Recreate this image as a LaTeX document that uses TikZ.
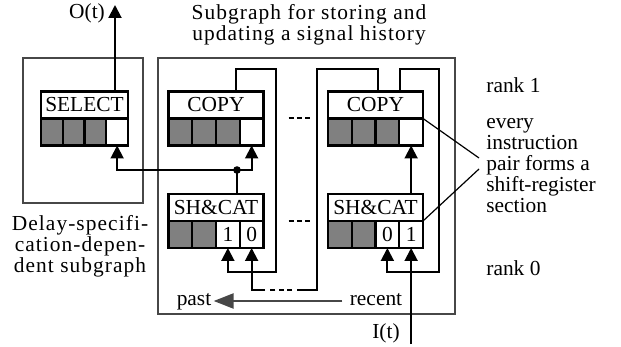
\documentclass[tikz,border=0pt]{standalone}
\usepackage{fontspec}
\setmainfont{Liberation Serif}
\usetikzlibrary{positioning,arrows.meta,calc}

\colorlet{shade}{black!50}
\colorlet{frame}{black!72}

\begin{document}
\begin{tikzpicture}[
    x=0.5pt, y=-0.5pt,
    font=\fontsize{10.7}{10.5}\selectfont,
    instr/.style={rectangle, draw, line width=1.1pt, minimum height=13.5pt, minimum width=47.5pt, inner sep=0pt, outer sep=0pt, fill=white},
    cell/.style={rectangle, draw, line width=1.1pt, minimum height=13.5pt, minimum width=11.875pt, inner sep=0pt, outer sep=0pt},
    selcell/.style={cell, minimum width=10.875pt},
    group/.style={rectangle, draw=frame, line width=1pt, inner sep=0pt},
    junction/.style={circle, fill, inner sep=0pt, minimum size=3.8pt},
    wire/.style={line width=1pt},
    arr/.style={wire, -{Triangle[length=6.5pt, width=6.5pt]}},
    dots/.style={wire, dash pattern=on 2.5pt off 1.65pt},
    timearr/.style={line width=1.2pt, draw=frame, -{Triangle[length=10pt, width=7.5pt]}},
    note/.style={line width=0.6pt},
    lab/.style={inner sep=0pt, text height=7pt, text depth=2pt},
    txt/.style={align=left, inner sep=0pt},
    spaced/.style={font=\fontsize{10.7}{10.5}\selectfont\addfontfeature{LetterSpace=5}, align=center}
]
\useasboundingbox (0,0) rectangle (621,347);

% ============================================================
% GROUP FRAMES
% ============================================================
\node[group, minimum width=60pt,    minimum height=72.5pt] (delaygrp) at (83,130.5) {};
\node[group, minimum width=148.5pt, minimum height=128pt]  (histgrp)  at (306.5,186) {};

\node[spaced] (title)    at (309,25)  {Subgraph for storing and\\updating a signal history};
\node[spaced] (delaylab) at (80,246)  {Delay-specifi-\\cation-depen-\\dent subgraph};

% ============================================================
% INSTRUCTIONS (label row + register cells below)
% ============================================================
\node[instr, minimum width=43.5pt] (sel) at (84.5,105) {SELECT};
\node[selcell, fill=shade, anchor=north west] (sel1) at (sel.south west) {};
\node[selcell, fill=shade, right=0pt of sel1] (sel2) {};
\node[selcell, fill=shade, right=0pt of sel2] (sel3) {};
\node[selcell, right=0pt of sel3] (sel4) {};

\node[instr] (copyA) at (216,105) {COPY};
\node[cell, fill=shade, anchor=north west] (copyA1) at (copyA.south west) {};
\node[cell, fill=shade, right=0pt of copyA1] (copyA2) {};
\node[cell, fill=shade, right=0pt of copyA2] (copyA3) {};
\node[cell, right=0pt of copyA3] (copyA4) {};

\node[instr] (copyB) at (375.5,105) {COPY};
\node[cell, fill=shade, anchor=north west] (copyB1) at (copyB.south west) {};
\node[cell, fill=shade, right=0pt of copyB1] (copyB2) {};
\node[cell, fill=shade, right=0pt of copyB2] (copyB3) {};
\node[cell, right=0pt of copyB3] (copyB4) {};

\node[instr] (shA) at (216,207.5) {SH\&CAT};
\node[cell, fill=shade, anchor=north west] (shA1) at (shA.south west) {};
\node[cell, fill=shade, right=0pt of shA1] (shA2) {};
\node[cell, right=0pt of shA2] (shA3) {1};
\node[cell, right=0pt of shA3] (shA4) {0};

\node[instr] (shB) at (375.5,207.5) {SH\&CAT};
\node[cell, fill=shade, anchor=north west] (shB1) at (shB.south west) {};
\node[cell, fill=shade, right=0pt of shB1] (shB2) {};
\node[cell, right=0pt of shB2] (shB3) {0};
\node[cell, right=0pt of shB3] (shB4) {1};

% ============================================================
% TERMINALS AND WIRE CORNERS
% ============================================================
\coordinate (out) at (115,5);
\coordinate (in)  at (shB4.south |- 0,344);
\node[lab] (olab) at (87,14)   {O(t)};
\node[lab] (ilab) at (386,333) {I(t)};

\node[junction] (tap) at (237,170) {};
\coordinate (loopA1) at (276,69);
\coordinate (loopA2) at (276,272);
\coordinate (backB1) at (317,69);
\coordinate (backB2) at (317,290);
\coordinate (gapR)   at (297,290);
\coordinate (gapL)   at (265,290);
\coordinate (loopB1) at (439,69);
\coordinate (loopB2) at (439,272);

% ============================================================
% WIRES
% ============================================================
\draw[arr] (sel.north -| out) -- (out);
\draw[wire] (shA.north -| tap) -- (tap.center);
\draw[arr] (tap.center) -| (sel4.south);
\draw[arr] (tap.center) -| (copyA4.south);

\draw[arr] ([xshift=10pt]copyA.north) |- (loopA1) -- (loopA2) -| (shA3.south);

\draw[wire] ([xshift=1.25pt]copyB.north) |- (backB1) -- (backB2) -- (gapR);
\draw[dots] ([xshift=-2.5pt]gapR) -- ([xshift=2.5pt]gapL);
\draw[arr] (gapL) -| (shA4.south);

\draw[arr] ([xshift=12pt]copyB.north) |- (loopB1) -- (loopB2) -| (shB3.south);
\draw[arr] (shB.north -| copyB4) -- (copyB4.south);
\draw[arr] (in) -- (shB4.south);

% repeated sections in between
\draw[dots] ([xshift=12.5pt]copyA.south east) -- ([xshift=-9pt]copyB.south west);
\draw[dots] ([xshift=12.5pt]shA.south east)   -- ([xshift=-9pt]shB.south west);

% time direction of the history
\node[lab] (recent) at (376,301) {recent};
\node[lab] (past)   at (194,301) {past};
\draw[timearr] ([xshift=-3.5pt]recent.west) -- ([xshift=1pt]past.east);

% ============================================================
% SIDE NOTES
% ============================================================
\node[txt, anchor=west] (rank1)    at (486,85)  {rank 1};
\node[txt, anchor=west] (pairnote) at (486,166) {every\\instruction\\pair forms a\\shift-register\\section};
\node[txt, anchor=west] (rank0)    at (486,268) {rank 0};

\draw[note] (copyB4.north east) -- ($(pairnote.west)+(-7,-8)$);
\draw[note] (shB.south east)    -- ($(pairnote.west)+(-7,3)$);

\end{tikzpicture}
\end{document}
